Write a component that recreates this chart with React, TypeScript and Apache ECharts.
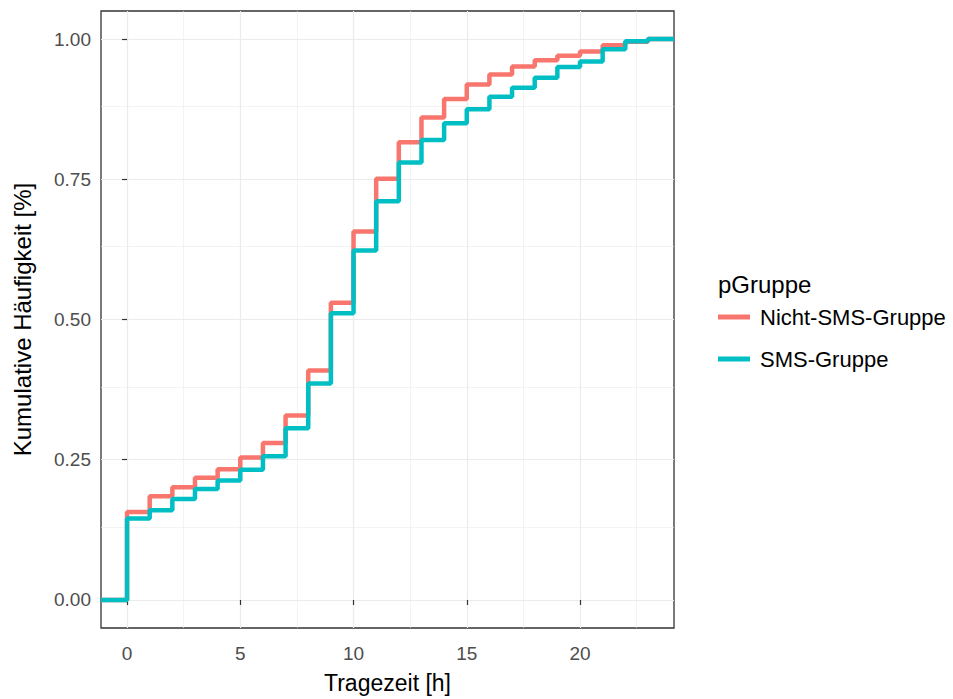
import React, { useEffect, useRef } from "react";
import * as echarts from "echarts";

// Tragezeit in Stunden, an denen die kumulative Häufigkeit springt
const hours = [0, 1, 2, 3, 4, 5, 6, 7, 8, 9, 10, 11, 12, 13, 14, 15, 16, 17, 18, 19, 20, 21, 22, 23];

// Kumulative Häufigkeit je Gruppe (Wert ab der jeweiligen Stunde)
const nichtSmsGruppe = [
  0.157, 0.185, 0.201, 0.218, 0.233, 0.254, 0.28, 0.329, 0.409, 0.53, 0.657, 0.751,
  0.816, 0.86, 0.893, 0.919, 0.937, 0.951, 0.962, 0.97, 0.978, 0.989, 0.995, 1.0,
];
const smsGruppe = [
  0.145, 0.16, 0.18, 0.198, 0.213, 0.232, 0.256, 0.306, 0.386, 0.511, 0.623, 0.711,
  0.78, 0.82, 0.85, 0.875, 0.897, 0.913, 0.931, 0.95, 0.96, 0.982, 0.996, 1.0,
];

const seriesNames = ["Nicht-SMS-Gruppe", "SMS-Gruppe"];
const seriesColors = ["#F8766D", "#00BFC4"];

// Achsenbereiche (inkl. Rand) und Skalenstriche
const xRange = [-1.15, 24.15];
const yRange = [-0.05, 1.05];
const xTicks = [0, 5, 10, 15, 20];
const xMinorGrid = [2.5, 7.5, 12.5, 17.5, 22.5];
const yTicks = [0, 0.25, 0.5, 0.75, 1];
const yMinorGrid = [0.125, 0.375, 0.625, 0.875];

const FONT = "'Liberation Sans', Arial, Helvetica, sans-serif";

// ECDF-Pfad: beginnt links bei 0 und läuft rechts bei 1 aus
function ecdfPath(values: number[]) {
  return [
    [xRange[0], 0],
    ...hours.map((h, i) => [h, values[i]]),
    [xRange[1], values[values.length - 1]],
  ];
}

export default function App() {
  const ref = useRef<HTMLDivElement>(null);

  useEffect(() => {
    if (!ref.current) return;
    const chart = echarts.init(ref.current, undefined, { renderer: "svg" });

    const gridLine = (width: number) => ({ color: "#EBEBEB", width, type: "solid" as const });

    const option: any = {
      animation: false,
      backgroundColor: "#FFFFFF",
      grid: {
        left: 101,
        top: 11,
        width: 573,
        height: 623,
        show: true,
        borderColor: "#333333",
        borderWidth: 1.3,
        backgroundColor: "transparent",
        containLabel: false,
      },
      xAxis: {
        type: "value",
        min: xRange[0],
        max: xRange[1],
        name: "Tragezeit [h]",
        nameLocation: "middle",
        nameGap: 43,
        nameTextStyle: { fontFamily: FONT, fontSize: 23, color: "#000000" },
        axisLine: { show: false },
        axisTick: {
          show: true,
          length: 5,
          customValues: xTicks,
          lineStyle: { color: "#333333", width: 1.2 },
        },
        axisLabel: {
          customValues: xTicks,
          margin: 16,
          fontFamily: FONT,
          fontSize: 19,
          color: "#4D4D4D",
        },
        splitLine: { show: false },
      },
      yAxis: {
        type: "value",
        min: yRange[0],
        max: yRange[1],
        name: "Kumulative Häufigkeit [%]",
        nameLocation: "middle",
        nameRotate: 90,
        nameGap: 67,
        nameTextStyle: { fontFamily: FONT, fontSize: 24, color: "#000000" },
        axisLine: { show: false },
        axisTick: {
          show: true,
          length: 5,
          customValues: yTicks,
          lineStyle: { color: "#333333", width: 1.2 },
        },
        axisLabel: {
          customValues: yTicks,
          margin: 10,
          fontFamily: FONT,
          fontSize: 19,
          color: "#4D4D4D",
          formatter: (v: number) => v.toFixed(2),
        },
        splitLine: { show: false },
      },
      legend: {
        data: seriesNames,
        orient: "vertical",
        left: 718,
        top: 306,
        padding: 0,
        itemWidth: 32,
        itemHeight: 5,
        itemGap: 20,
        icon: "rect",
        textStyle: {
          fontFamily: FONT,
          fontSize: 22,
          color: "#000000",
          lineHeight: 20,
          padding: [0, 0, 0, 5],
        },
      },
      graphic: [
        {
          type: "text",
          left: 718,
          top: 272,
          style: { text: "pGruppe", fontFamily: FONT, fontSize: 24, fill: "#000000" },
        },
      ],
      series: [
        // Gitternetz (Haupt- und Nebenlinien)
        {
          name: "grid",
          type: "line",
          data: [[xRange[0], yRange[0]]],
          showSymbol: false,
          lineStyle: { opacity: 0 },
          silent: true,
          z: 0,
          markLine: {
            silent: true,
            symbol: ["none", "none"],
            label: { show: false },
            z: 0,
            data: [
              ...xMinorGrid.map((v) => ({ xAxis: v, lineStyle: gridLine(0.6) })),
              ...yMinorGrid.map((v) => ({ yAxis: v, lineStyle: gridLine(0.6) })),
              ...xTicks.map((v) => ({ xAxis: v, lineStyle: gridLine(1.2) })),
              ...yTicks.map((v) => ({ yAxis: v, lineStyle: gridLine(1.2) })),
            ],
          },
        },
        ...[nichtSmsGruppe, smsGruppe].map((vals, i) => ({
          name: seriesNames[i],
          type: "line",
          step: "end",
          data: ecdfPath(vals),
          showSymbol: false,
          color: seriesColors[i],
          lineStyle: { color: seriesColors[i], width: 4.5 },
          z: 2 + i,
        })),
      ],
    };

    chart.setOption(option);
    return () => chart.dispose();
  }, []);

  return (
    <div
      ref={ref}
      style={{ position: "fixed", left: 0, top: 0, width: 953, height: 699, background: "#fff" }}
    />
  );
}
